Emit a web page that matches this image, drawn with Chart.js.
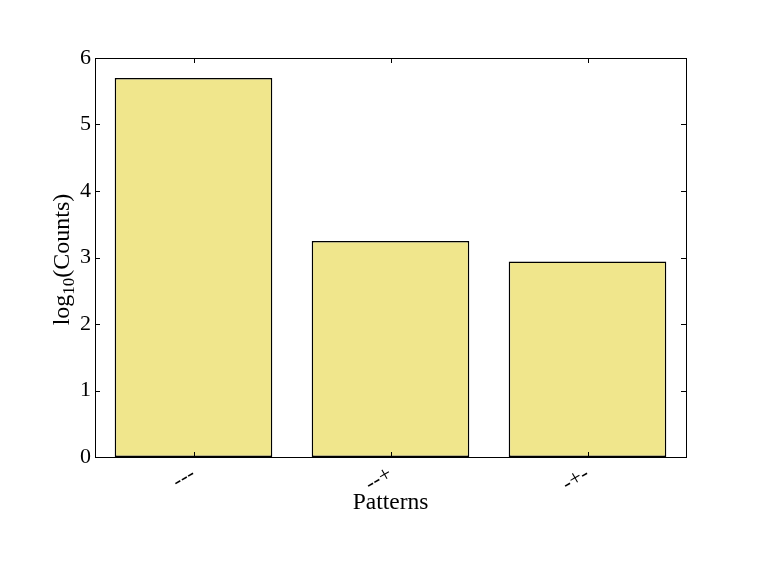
<!DOCTYPE html>
<html>
<head>
<meta charset="utf-8">
<script src="https://cdn.jsdelivr.net/npm/chart.js@4.4.0/dist/chart.umd.min.js"></script>
<style>
  html, body { margin: 0; padding: 0; background: #fff; }
  #wrap { width: 763px; height: 572px; }
</style>
</head>
<body>
<div id="wrap"><canvas id="chart" width="763" height="572"></canvas></div>
<script>
// data
const patterns = ['---', '--+', '-+-'];
const logCounts = [5.70, 3.25, 2.94];
const yTicks = [0, 1, 2, 3, 4, 5, 6];

const serif = '"Liberation Serif", "DejaVu Serif", serif';

// box round the plot and inward ticks on all four sides
const frame = {
    id: 'frame',
    afterDraw(chart) {
        const { ctx, chartArea: a, scales } = chart;
        ctx.save();
        ctx.strokeStyle = '#000';
        ctx.lineWidth = 1;
        ctx.beginPath();
        yTicks.forEach(v => {
            const y = Math.round(scales.y.getPixelForValue(v)) + 0.5;
            ctx.moveTo(a.left, y); ctx.lineTo(a.left + 5, y);
            ctx.moveTo(a.right, y); ctx.lineTo(a.right - 5, y);
        });
        patterns.forEach((p, i) => {
            const x = Math.round(scales.x.getPixelForValue(i)) + 0.5;
            ctx.moveTo(x, a.bottom); ctx.lineTo(x, a.bottom - 5);
            ctx.moveTo(x, a.top); ctx.lineTo(x, a.top + 5);
        });
        ctx.stroke();
        ctx.strokeRect(Math.round(a.left) + 0.5, Math.round(a.top) + 0.5,
            Math.round(a.right - a.left), Math.round(a.bottom - a.top));

        // axis titles
        ctx.fillStyle = '#000';
        ctx.font = '23.5px ' + serif;
        ctx.textAlign = 'center';
        ctx.textBaseline = 'alphabetic';
        ctx.fillText('Patterns', (a.left + a.right) / 2, 509);

        // y title with a subscript
        ctx.translate(69, (a.top + a.bottom) / 2 + 2);
        ctx.rotate(-Math.PI / 2);
        const big = '24px ' + serif, small = '17px ' + serif;
        ctx.font = big; const w1 = ctx.measureText('log').width;
        ctx.font = small; const w2 = ctx.measureText('10').width;
        ctx.font = big; const w3 = ctx.measureText('(Counts)').width;
        let x = -(w1 + w2 + w3) / 2;
        ctx.textAlign = 'left';
        ctx.font = big; ctx.fillText('log', x, 0); x += w1;
        ctx.font = small; ctx.fillText('10', x, 5); x += w2;
        ctx.font = big; ctx.fillText('(Counts)', x, 0);
        ctx.restore();
    }
};

new Chart(document.getElementById('chart'), {
    type: 'bar',
    data: {
        labels: patterns,
        datasets: [{
            data: logCounts,
            backgroundColor: '#F0E68C',
            borderColor: '#000',
            borderWidth: 1.5,
            borderSkipped: false,
            categoryPercentage: 1.0,
            barPercentage: 0.8
        }]
    },
    options: {
        responsive: false,
        animation: false,
        devicePixelRatio: 1,
        layout: { padding: { top: 58, right: 77, left: 0, bottom: 0 } },
        plugins: { legend: { display: false }, tooltip: { enabled: false } },
        scales: {
            x: {
                grid: { display: false, drawTicks: false },
                border: { display: false },
                ticks: {
                    color: '#000',
                    font: { family: serif, size: 22 },
                    minRotation: 30, maxRotation: 30,
                    padding: 4
                },
                afterFit(scale) { scale.height = 572 - 457; }
            },
            y: {
                min: 0, max: 6,
                grid: { display: false, drawTicks: false },
                border: { display: false },
                afterBuildTicks(scale) { scale.ticks = yTicks.map(v => ({ value: v })); },
                ticks: {
                    color: '#000',
                    font: { family: serif, size: 22 },
                    padding: 4
                },
                afterFit(scale) { scale.width = 95; }
            }
        }
    },
    plugins: [frame]
});
</script>
</body>
</html>
